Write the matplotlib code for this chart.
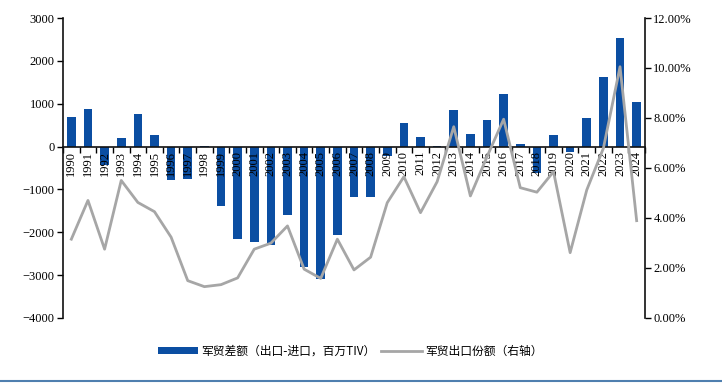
import numpy as np
import matplotlib
matplotlib.use('Agg')
import matplotlib.pyplot as plt
from matplotlib.ticker import FuncFormatter, FixedLocator
from matplotlib.lines import Line2D

years = [str(y) for y in range(1990, 2025)]
balance = [680, 880, -420, 195, 750, 275, -780, -760, 10, -1380,
           -2155, -2235, -2290, -1610, -2810, -3100, -2055, -1175, -1175, -225,
           555, 225, 10, 850, 290, 615, 1230, 70, -615, 280,
           -135, 670, 1625, 2535, 1050]
share = [3.15, 4.70, 2.75, 5.50, 4.62, 4.25, 3.23, 1.49, 1.25, 1.33,
         1.60, 2.75, 2.99, 3.68, 1.95, 1.58, 3.15, 1.92, 2.43, 4.61,
         5.65, 4.21, 5.45, 7.65, 4.88, 6.45, 7.95, 5.21, 5.03, 5.85,
         2.61, 5.12, 6.79, 10.05, 3.89]

serif = ['Liberation Serif', 'DejaVu Serif']
cjk = ['Noto Sans CJK SC', 'DejaVu Sans']

fig = plt.figure(figsize=(7.22, 3.83), dpi=100)
ax = fig.add_axes([0.0873, 0.170, 0.806, 0.783])
ax2 = ax.twinx()

x = np.arange(len(years))
bars = ax.bar(x, balance, width=0.52, color='#0B4EA2', zorder=1,
              label='军贸差额（出口-进口，百万TIV）')
line, = ax2.plot(x, share, color='#A6A6A6', lw=2.0,
                 label='军贸出口份额（右轴）')

ax.set_xlim(-0.5, len(years) - 0.5)
ax.set_ylim(-4000, 3000)
ax.set_yticks(range(-4000, 3001, 1000))
ax2.set_ylim(0, 12)
ax2.set_yticks(range(0, 13, 2))
ax2.yaxis.set_major_formatter(FuncFormatter(lambda v, p: f'{v:.2f}%'))

for a in (ax, ax2):
    a.spines['top'].set_visible(False)
ax.spines['right'].set_visible(False)
ax2.spines['bottom'].set_visible(False)
ax2.spines['left'].set_visible(False)
ax.spines['bottom'].set_position(('data', 0))
for s in ('left', 'bottom'):
    ax.spines[s].set_linewidth(1.2)
    ax.spines[s].set_color('#111111')
ax2.spines['right'].set_linewidth(1.2)
ax2.spines['right'].set_color('#111111')

ax.set_xticks(x)
ax.set_xticklabels(years, rotation=90, fontsize=9, family=serif, va='top')
ax.xaxis.set_minor_locator(FixedLocator(np.arange(-0.5, len(years), 1.0)))
ax.tick_params(axis='x', which='major', length=0, pad=3)
ax.tick_params(axis='x', which='minor', length=4, width=1, direction='out')
ax.tick_params(axis='y', length=4, width=1, labelsize=9, pad=2)
ax2.tick_params(axis='y', length=4, width=1, labelsize=9, pad=2)
for lab in ax.get_yticklabels() + ax2.get_yticklabels():
    lab.set_family(serif)

leg = fig.legend(handles=[bars, line], loc='center', bbox_to_anchor=(0.485, 0.083),
                 ncol=2, frameon=False, prop={'family': cjk, 'size': 8.5},
                 handlelength=3.4, handleheight=0.6, columnspacing=0.5,
                 handletextpad=0.3)

fig.add_artist(Line2D([0, 1], [0.006, 0.006], color='#4F7FAF', lw=1.5,
                      transform=fig.transFigure))

fig.savefig('out.png', dpi=100)
